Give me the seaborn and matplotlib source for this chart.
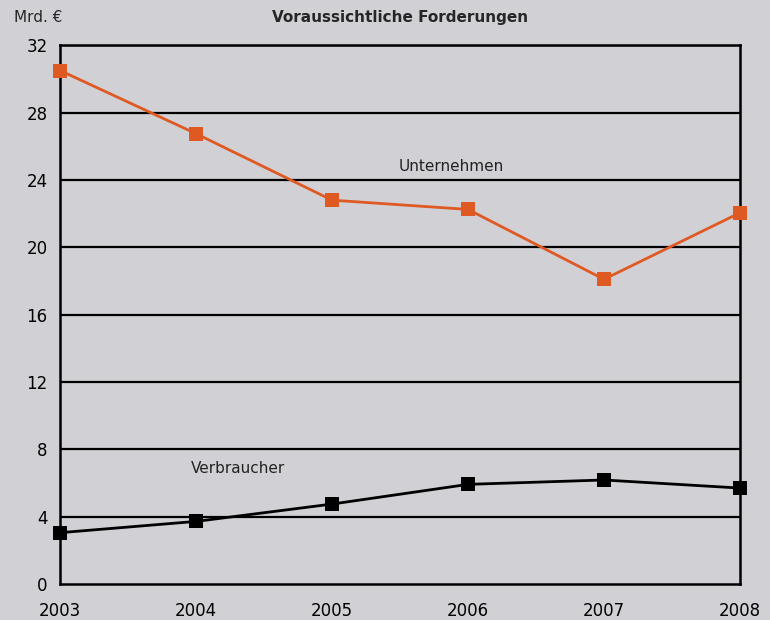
import pandas as pd
import matplotlib
matplotlib.use('Agg')
import matplotlib.pyplot as plt
import seaborn as sns

years = [2003, 2004, 2005, 2006, 2007, 2008]
unternehmen = [30.5, 26.75, 22.8, 22.25, 18.1, 22.05]
verbraucher = [3.05, 3.72, 4.75, 5.92, 6.18, 5.7]
series_names = ['Unternehmen', 'Verbraucher']
y_ticks = [0, 4, 8, 12, 16, 20, 24, 28, 32]

BG = '#d1d0d5'
ORANGE = '#df5a22'

df = pd.DataFrame({
    'Jahr': years * 2,
    'Wert': unternehmen + verbraucher,
    'Serie': [series_names[0]] * len(years) + [series_names[1]] * len(years),
})

sns.set_style('white')
plt.rcParams['font.family'] = ['DejaVu Sans']

fig = plt.figure(figsize=(7.7, 6.2), dpi=100, facecolor=BG)
ax = fig.add_axes([0.078, 0.058, 0.883, 0.869])
ax.set_facecolor(BG)

# horizontal grid lines
for t in y_ticks[1:]:
    ax.axhline(t, color='black', lw=1.6, zorder=1)

sns.lineplot(data=df, x='Jahr', y='Wert', hue='Serie', style='Serie',
             palette={'Unternehmen': ORANGE, 'Verbraucher': 'black'},
             markers={'Unternehmen': 's', 'Verbraucher': 's'},
             dashes=False, markersize=10, markeredgewidth=0,
             linewidth=2, legend=False, ax=ax, zorder=3, clip_on=False)

ax.set_xlim(2003, 2008)
ax.set_ylim(0, 32)
ax.set_xticks(years)
ax.set_yticks(y_ticks)
ax.set_xlabel('')
ax.set_ylabel('')
ax.tick_params(axis='both', direction='out', length=5, width=1.6, color='black',
               labelsize=12, labelcolor='black')
ax.tick_params(axis='x', pad=8)
ax.tick_params(axis='y', pad=4)

for side in ['left', 'right', 'bottom', 'top']:
    ax.spines[side].set_visible(True)
    ax.spines[side].set_color('black')
    ax.spines[side].set_linewidth(1.8)

ax.text(2005.88, 24.8, 'Unternehmen', fontsize=11, ha='center', va='center', color='#222222')
ax.text(2004.31, 6.85, 'Verbraucher', fontsize=11, ha='center', va='center', color='#222222')

fig.text(0.52, 0.971, 'Voraussichtliche Forderungen', fontsize=11, fontweight='bold',
         ha='center', va='center')
fig.text(0.018, 0.971, 'Mrd. €', fontsize=11, ha='left', va='center')

fig.savefig('out.png', dpi=100, facecolor=BG)
